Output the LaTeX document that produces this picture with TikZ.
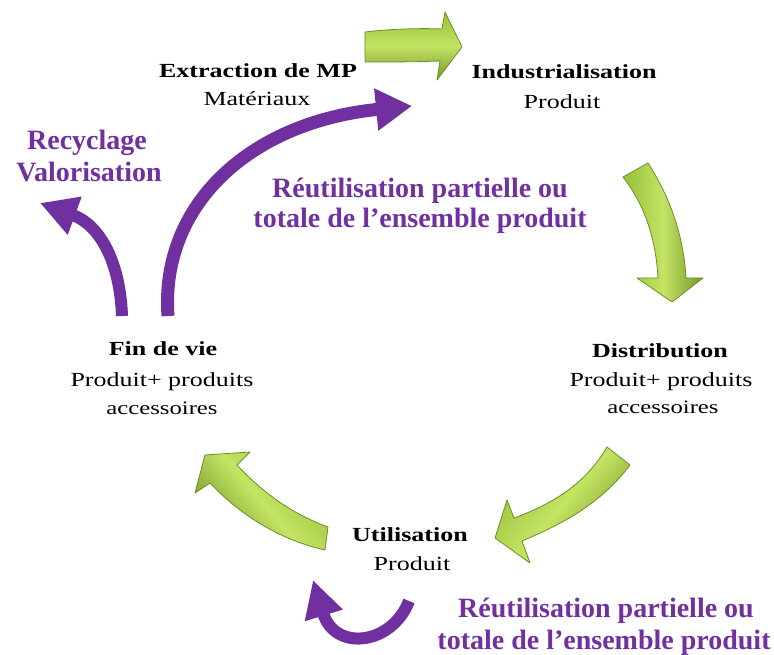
\documentclass[tikz,border=0pt]{standalone}
\usepackage{fontspec}
\setmainfont{Liberation Serif}
\newfontfamily\widefont[FakeStretch=1.3]{Liberation Serif}
\usetikzlibrary{arrows.meta}
\definecolor{cyclepurple}{RGB}{112,48,160}
\definecolor{grnlight}{RGB}{196,228,100}
\definecolor{grnmid}{RGB}{150,192,55}
\definecolor{grnedge}{RGB}{108,142,38}

\begin{document}
\begin{tikzpicture}[x=1pt,y=-1pt,line join=round,
  stagename/.style={font=\widefont\fontsize{20}{24}\selectfont\bfseries,anchor=base,inner sep=0pt},
  stagesub/.style={font=\widefont\fontsize{20}{24}\selectfont,anchor=base,inner sep=0pt},
  stageacc/.style={font=\widefont\fontsize{19}{22}\selectfont,anchor=base,inner sep=0pt},
  purplabel/.style={font=\fontsize{28}{32}\selectfont\bfseries,text=cyclepurple,anchor=base,inner sep=0pt},
  purparrow/.style={draw=cyclepurple,line width=13pt,-{Triangle[length=36pt,width=40pt]}},
  greenarrow/.style={draw=grnedge,line width=0.8pt,top color=grnmid,bottom color=grnedge!80!grnmid,middle color=grnlight}]
\useasboundingbox (0,0) rectangle (774,655);
% stages of the life cycle
\node[stagename] (extr) at (258,78) {Extraction de MP};
\node[stagesub] (extrsub) at (257,106) {Matériaux};
\node[stagename] (indus) at (564,79) {Industrialisation};
\node[stagesub] (indussub) at (562,109) {Produit};
\node[stagename] (distr) at (660,357) {Distribution};
\node[stagesub] (distrsub) at (661,386) {Produit+ produits};
\node[stageacc] (distracc) at (663,413) {accessoires};
\node[stagename] (util) at (410,541) {Utilisation};
\node[stagesub] (utilsub) at (412,570) {Produit};
\node[stagename] (fin) at (163,355) {Fin de vie};
\node[stagesub] (finsub) at (162,386) {Produit+ produits};
\node[stageacc] (finacc) at (162,414) {accessoires};
% green arrows between stages
\path[greenarrow,shading angle=0] (365,32) .. controls (390,29) and (420,28) .. (442,29) -- (445,12) -- (462,47)
  -- (437,80) -- (440,61) .. controls (415,62) and (390,62) .. (365,62) -- cycle;
\path[greenarrow,shading angle=90] (623,177) -- (648,163) .. controls (672,200) and (684,240) .. (686,278) -- (703,278)
  -- (672,302) -- (637,278) -- (658,278) .. controls (656,240) and (645,205) .. (623,177) -- cycle;
\path[greenarrow,shading angle=50] (607,447) -- (630,465) .. controls (600,505) and (560,525) .. (522,541) -- (530,563)
  -- (495,538) -- (507,500) -- (514,518) .. controls (550,505) and (585,485) .. (607,447) -- cycle;
\path[greenarrow,shading angle=-50] (328,527) .. controls (295,515) and (265,495) .. (237,465) -- (250,452)
  -- (205,455) -- (195,493) -- (210,483) .. controls (240,515) and (280,540) .. (325,550) -- cycle;
% purple loops
\coordinate (finreuse) at (168,316);
\coordinate (indusin) at (412,106);
\coordinate (finrecyc) at (122,316);
\coordinate (recycin) at (40,203);
\coordinate (utilout) at (409,601);
\coordinate (utilin) at (313,580);
\draw[purparrow] (finreuse) .. controls (160,205) and (250,122) .. (indusin);
\draw[purparrow,line width=12pt,-{Triangle[length=37pt,width=38pt]}] (finrecyc) .. controls (120,262) and (100,225) .. (recycin);
\draw[purparrow,line width=12pt,-{Triangle[length=37pt,width=37pt]}] (utilout) .. controls (392,645) and (335,652) .. (utilin);
\node[purplabel] (recyc) at (87,150) {Recyclage};
\node[purplabel] (valor) at (89,182) {Valorisation};
\node[purplabel] (reuseup) at (420,198) {Réutilisation partielle ou};
\node[purplabel] (reuseupb) at (420,228) {totale de l’ensemble produit};
\node[purplabel] (reusedown) at (606,617) {Réutilisation partielle ou};
\node[purplabel] (reusedownb) at (604,649) {totale de l’ensemble produit};
\end{tikzpicture}
\end{document}
